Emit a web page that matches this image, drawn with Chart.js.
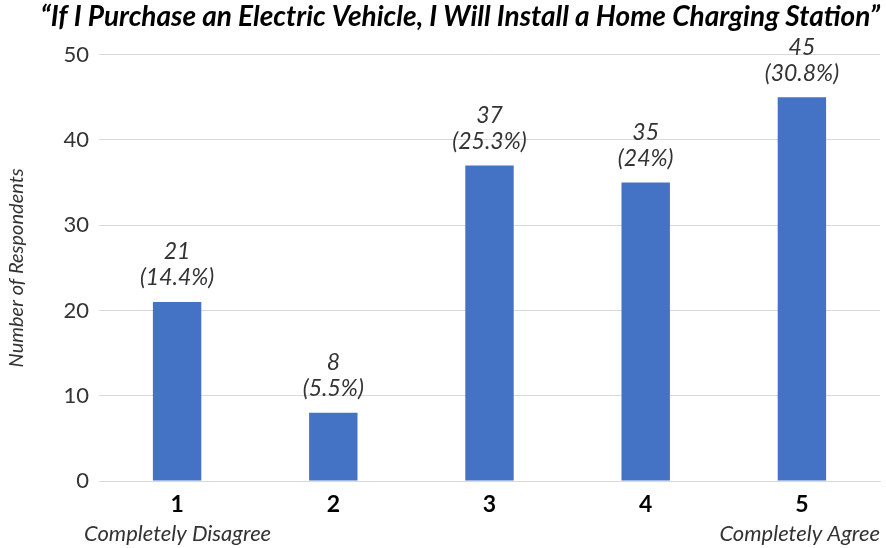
<!DOCTYPE html>
<html>
<head>
<meta charset="utf-8">
<script src="https://cdn.jsdelivr.net/npm/chart.js@4/dist/chart.umd.min.js"></script>
<style>
  html, body { margin: 0; padding: 0; background: #fff; }
  #wrap { width: 886px; height: 548px; position: relative; }
</style>
</head>
<body>
<div id="wrap"><canvas id="chart"></canvas></div>
<script>
    // survey answers on a 1..5 scale
    var categories = ['1', '2', '3', '4', '5'];
    var respondents = [21, 8, 37, 35, 45];
    var shares = ['14.4%', '5.5%', '25.3%', '24%', '30.8%'];
    var yTicks = [0, 10, 20, 30, 40, 50];
    var scaleEnds = ['Completely Disagree', 'Completely Agree'];

    var fontFamily = 'Lato, "Open Sans", sans-serif';
    var textColor = '#333333';

    // value + percentage above each bar
    var barLabels = {
        id: 'barLabels',
        afterDatasetsDraw: (chart) => {
            var ctx = chart.ctx;
            var meta = chart.getDatasetMeta(0);
            ctx.save();
            ctx.fillStyle = textColor;
            ctx.font = 'italic 23px ' + fontFamily;
            ctx.textAlign = 'center';
            ctx.textBaseline = 'middle';
            meta.data.forEach((bar, i) => {
                ctx.fillText(String(respondents[i]), bar.x, bar.y - 50);
                ctx.fillText('(' + shares[i] + ')', bar.x, bar.y - 24);
            });
            ctx.restore();
        }
    };

    // scale end notes under the axis
    var scaleNotes = {
        id: 'scaleNotes',
        afterDraw: (chart) => {
            var ctx = chart.ctx;
            var area = chart.chartArea;
            ctx.save();
            ctx.fillStyle = textColor;
            ctx.font = 'italic 22px ' + fontFamily;
            ctx.textBaseline = 'middle';
            ctx.textAlign = 'left';
            ctx.fillText(scaleEnds[0], 84, 534);
            ctx.textAlign = 'right';
            ctx.fillText(scaleEnds[1], area.right, 534);
            ctx.restore();
        }
    };

    var config = {
        type: 'bar',
        data: {
            labels: categories,
            datasets: [
                {
                    label: 'Respondents',
                    backgroundColor: '#4472C4',
                    data: respondents,
                    categoryPercentage: 1,
                    barPercentage: 0.31
                }
            ]
        },
        options: {
            responsive: true,
            maintainAspectRatio: false,
            animation: false,
            layout: { padding: { left: 0, right: 6, top: 0, bottom: 0 } },
            scales: {
                x: {
                    grid: { display: false },
                    border: { display: true, color: '#d9d9d9', width: 1 },
                    ticks: { color: '#000', font: { family: fontFamily, size: 23, weight: 'bold' }, padding: 2 },
                    afterFit: (axis) => { axis.height = 67; }
                },
                y: {
                    min: 0,
                    max: 50,
                    afterBuildTicks: (axis) => { axis.ticks = yTicks.map(v => ({ value: v })); },
                    grid: { color: '#d9d9d9', drawTicks: false },
                    border: { display: false },
                    ticks: { color: textColor, font: { family: fontFamily, size: 22 }, padding: 10 },
                    title: { display: true, text: 'Number of Respondents', color: textColor, font: { family: fontFamily, size: 20, style: 'italic' }, padding: { top: 5, bottom: 0 } },
                    afterFit: (axis) => { axis.width = 99; }
                }
            },
            plugins: {
                title: {
                    display: true,
                    align: 'end',
                    text: '\u201CIf I Purchase an Electric Vehicle, I Will Install a Home Charging Station\u201D',
                    color: '#000',
                    font: { family: fontFamily, size: 28, weight: 'bold', style: 'italic' },
                    padding: { top: 0, bottom: 21 }
                },
                legend: { display: false },
                tooltip: { enabled: false }
            }
        },
        plugins: [barLabels, scaleNotes]
    };

    new Chart(document.getElementById('chart'), config);
</script>
</body>
</html>
